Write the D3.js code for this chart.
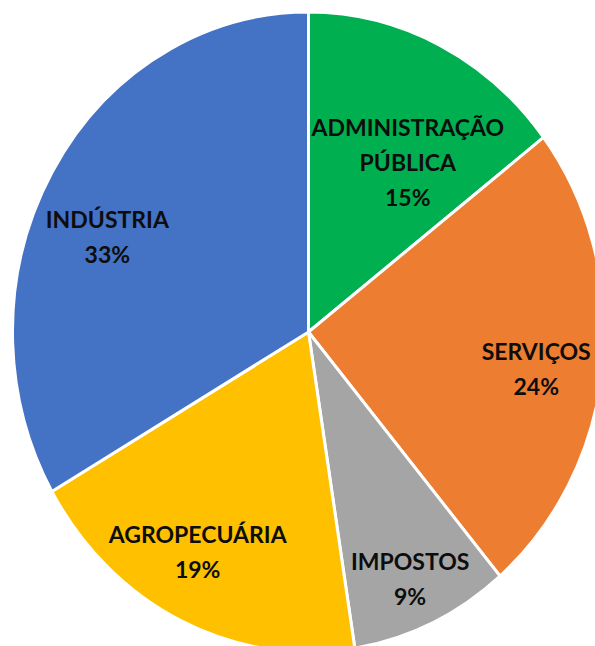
<!DOCTYPE html>
<html>
<head>
<meta charset="utf-8">
<script src="https://cdn.jsdelivr.net/npm/d3@7"></script>
<style>
  body { margin: 0; background: #fff; }
  text { font-family: Lato, "Open Sans", sans-serif; font-weight: bold; fill: #0d0d0d; }
</style>
</head>
<body>
<div id="chart"></div>
<script>
var width = 595;
var height = 646;

// data, clockwise from 12 o'clock (labels show rounded values)
var categories = ['ADMINISTRAÇÃO PÚBLICA', 'SERVIÇOS', 'IMPOSTOS', 'AGROPECUÁRIA', 'INDÚSTRIA'];
var values = [14.6, 24.2, 8.7, 19.2, 33.3];
var colors = ['#00B050', '#ED7D31', '#A5A5A5', '#FFC000', '#4472C4'];

var cx = 308.5, cy = 332;
var ry = 320, rx = 296;   // the pie is slightly squeezed horizontally
var sx = rx / ry;

var data = categories.map(function(c, i) { return { name: c, value: values[i], color: colors[i] }; });

var svg = d3.select('#chart').append('svg')
    .attr('width', width)
    .attr('height', height);

var pie = d3.pie()
    .sort(null)
    .value(function(d) { return d.value; });

var arc = d3.arc().innerRadius(0).outerRadius(ry);
var labelArc = d3.arc().innerRadius(240).outerRadius(240);

var arcs = pie(data);

svg.append('g')
    .attr('transform', 'translate(' + cx + ',' + cy + ') scale(' + sx + ',1)')
  .selectAll('path')
    .data(arcs)
    .enter().append('path')
    .attr('d', arc)
    .attr('fill', function(d) { return d.data.color; })
    .attr('stroke', '#fff')
    .attr('stroke-width', 3)
    .attr('vector-effect', 'non-scaling-stroke');

// excel "best fit" moves some labels off the centroid
var nudge = {
  'ADMINISTRAÇÃO PÚBLICA': [1, 46],
  'SERVIÇOS': [7, 12],
  'IMPOSTOS': [9, 29],
  'AGROPECUÁRIA': [-15, 4],
  'INDÚSTRIA': [-9, 26]
};

var lineH = 35;
var fontSize = 23;

var labels = svg.selectAll('.lbl')
    .data(arcs)
    .enter().append('text').classed('lbl', true)
    .attr('text-anchor', 'middle')
    .style('font-size', fontSize + 'px')
    .each(function(d) {
        var c = labelArc.centroid(d);
        var n = nudge[d.data.name];
        var x = cx + c[0] * sx + n[0];
        var y = cy + c[1] + n[1];
        var lines = d.data.name.split(' ').concat([Math.round(d.data.value) + '%']);
        var first = y - (lines.length - 1) * lineH / 2 + 8;
        var t = d3.select(this);
        lines.forEach(function(l, i) {
            t.append('tspan')
                .attr('x', x)
                .attr('y', first + i * lineH)
                .text(l);
        });
    });
</script>
</body>
</html>
